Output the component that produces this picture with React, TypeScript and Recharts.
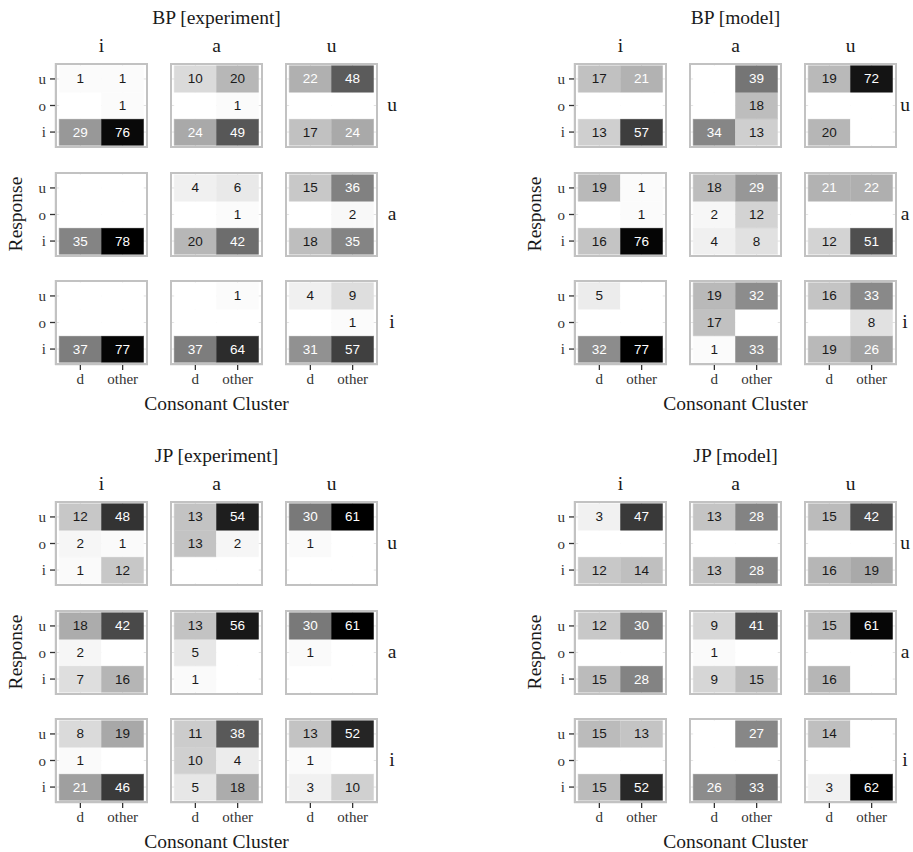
import React from 'react';
import { BarChart, Bar, XAxis, YAxis, CartesianGrid, Cell, LabelList } from 'recharts';

const clusters = ['d', 'other'];
const responses = ['u', 'o', 'i'];
const stimulusColumns = ['i', 'a', 'u'];
const stimulusRows = ['u', 'a', 'i'];

// counts[facet row][facet column][response u, o, i] = [d, other]
const bpExperiment = [
  [[[1, 1], [0, 1], [29, 76]], [[10, 20], [0, 1], [24, 49]], [[22, 48], [0, 0], [17, 24]]],
  [[[0, 0], [0, 0], [35, 78]], [[4, 6], [0, 1], [20, 42]], [[15, 36], [0, 2], [18, 35]]],
  [[[0, 0], [0, 0], [37, 77]], [[0, 1], [0, 0], [37, 64]], [[4, 9], [0, 1], [31, 57]]],
];
const bpModel = [
  [[[17, 21], [0, 0], [13, 57]], [[0, 39], [0, 18], [34, 13]], [[19, 72], [0, 0], [20, 0]]],
  [[[19, 1], [0, 1], [16, 76]], [[18, 29], [2, 12], [4, 8]], [[21, 22], [0, 0], [12, 51]]],
  [[[5, 0], [0, 0], [32, 77]], [[19, 32], [17, 0], [1, 33]], [[16, 33], [0, 8], [19, 26]]],
];
const jpExperiment = [
  [[[12, 48], [2, 1], [1, 12]], [[13, 54], [13, 2], [0, 0]], [[30, 61], [1, 0], [0, 0]]],
  [[[18, 42], [2, 0], [7, 16]], [[13, 56], [5, 0], [1, 0]], [[30, 61], [1, 0], [0, 0]]],
  [[[8, 19], [1, 0], [21, 46]], [[11, 38], [10, 4], [5, 18]], [[13, 52], [1, 0], [3, 10]]],
];
const jpModel = [
  [[[3, 47], [0, 0], [12, 14]], [[13, 28], [0, 0], [13, 28]], [[15, 42], [0, 0], [16, 19]]],
  [[[12, 30], [0, 0], [15, 28]], [[9, 41], [1, 0], [9, 15]], [[15, 61], [0, 0], [16, 0]]],
  [[[15, 13], [0, 0], [15, 52]], [[0, 27], [0, 0], [26, 33]], [[14, 0], [0, 0], [3, 62]]],
];

const titles = ['BP [experiment]', 'BP [model]', 'JP [experiment]', 'JP [model]'];
const datasets = [bpExperiment, bpModel, jpExperiment, jpModel];

// layout
const quadrantOffsets = [
  [0, 0],
  [519, 0],
  [0, 438],
  [519, 438],
];
const colLefts = [55, 170, 285];
const rowTops = [63, 172, 280];
const PW = 93;
const PH = 85;
const YW = 26;
const XH = 24;
const PADX = (PW * 0.1) / 2.2;
const PADY = (PH * 0.1) / 3.2;
const PAGE_W = 913;
const SERIF = "'Liberation Serif', 'Times New Roman', serif";
const SANS = "'Liberation Sans', Arial, sans-serif";
const INK = '#1a1a1a';

// white -> black, interpolated in Lab lightness like ggplot's gradient
function grayFor(n: number, max: number) {
  const L = 100 * (1 - n / max);
  const fy = (L + 16) / 116;
  const Y = L > 8 ? fy ** 3 : L / 903.3;
  const v = Y <= 0.0031308 ? 12.92 * Y : 1.055 * Y ** (1 / 2.4) - 0.055;
  const g = Math.round(Math.max(0, Math.min(1, v)) * 255);
  return `rgb(${g},${g},${g})`;
}

function TileLabel(props: any) {
  const { x, y, width, height, value } = props;
  if (!value) return null;
  return (
    <text
      x={Number(x) + Number(width) / 2}
      y={Number(y) + Number(height) / 2}
      textAnchor="middle"
      dominantBaseline="central"
      fontFamily={SANS}
      fontSize={13.5}
      fill={value > 20 ? '#ffffff' : INK}
    >
      {value}
    </text>
  );
}

function Facet({ counts, max, left, top, showY, showX }: any) {
  const rows = clusters.map((c, ci) => {
    const row: Record<string, any> = { cluster: c };
    responses.forEach((r, ri) => {
      row[r] = 1;
      row['n_' + r] = counts[ri][ci];
    });
    return row;
  });
  const w = PW + (showY ? YW : 0);
  const h = PH + (showX ? XH : 0);
  return (
    <div style={{ position: 'absolute', left: left - (showY ? YW : 0), top, width: w, height: h }}>
      <BarChart
        width={w}
        height={h}
        data={rows}
        margin={{ top: 0, right: 0, bottom: 0, left: 0 }}
        barCategoryGap={0}
        barGap={0}
      >
        <CartesianGrid stroke="#e2e2e2" strokeWidth={1} />
        <XAxis
          dataKey="cluster"
          padding={{ left: PADX, right: PADX }}
          hide={!showX}
          height={XH}
          interval={0}
          axisLine={false}
          tickLine={{ stroke: '#333', strokeWidth: 1.3 }}
          tickSize={5}
          tickMargin={3}
          tick={{ fill: '#333', fontSize: 15, fontFamily: SERIF }}
        />
        <YAxis
          type="number"
          domain={[0, 3]}
          ticks={[0.5, 1.5, 2.5]}
          tickFormatter={(v: number) => responses[2 - Math.floor(v)]}
          padding={{ top: PADY, bottom: PADY }}
          hide={!showY}
          width={YW}
          interval={0}
          axisLine={false}
          tickLine={{ stroke: '#333', strokeWidth: 1.3 }}
          tickSize={5}
          tickMargin={4}
          tick={{ fill: '#333', fontSize: 15, fontFamily: SERIF }}
        />
        {[...responses].reverse().map((r) => (
          <Bar key={r} dataKey={r} stackId="tile" isAnimationActive={false}>
            {rows.map((row, k) => {
              const fill = grayFor(row['n_' + r], max);
              return <Cell key={k} fill={fill} stroke={fill} strokeWidth={0.5} />;
            })}
            <LabelList dataKey={'n_' + r} content={TileLabel} />
          </Bar>
        ))}
      </BarChart>
      <div
        style={{
          position: 'absolute',
          left: showY ? YW : 0,
          top: 0,
          width: PW,
          height: PH,
          border: '2px solid #c2c2c2',
          boxSizing: 'border-box',
          pointerEvents: 'none',
        }}
      />
    </div>
  );
}

function Txt({ x, y, size, rotate, children }: any) {
  return (
    <div
      style={{
        position: 'absolute',
        left: x,
        top: y,
        transform: `translate(-50%, -50%)${rotate ? ' rotate(-90deg)' : ''}`,
        fontFamily: SERIF,
        fontSize: size,
        lineHeight: 1,
        color: INK,
        whiteSpace: 'nowrap',
      }}
    >
      {children}
    </div>
  );
}

function Quadrant({ title, counts, ox, oy }: any) {
  const max = Math.max(...counts.flat(3));
  const midX = ox + (colLefts[0] + colLefts[2] + PW) / 2;
  const stripX = Math.min(ox + 392, PAGE_W - 8);
  return (
    <>
      <Txt x={midX} y={oy + 18} size={19.5}>{title}</Txt>
      {stimulusColumns.map((s, ci) => (
        <Txt key={'c' + ci} x={ox + colLefts[ci] + PW / 2} y={oy + 46} size={19.5}>{s}</Txt>
      ))}
      {stimulusRows.map((s, ri) => (
        <Txt key={'r' + ri} x={stripX} y={oy + rowTops[ri] + PH / 2 - 1} size={19.5}>{s}</Txt>
      ))}
      {counts.map((rowFacets: any, ri: number) =>
        rowFacets.map((cell: any, ci: number) => (
          <Facet
            key={ri + '-' + ci}
            counts={cell}
            max={max}
            left={ox + colLefts[ci]}
            top={oy + rowTops[ri]}
            showY={ci === 0}
            showX={ri === 2}
          />
        ))
      )}
      <Txt x={midX} y={oy + 404} size={19.5}>Consonant Cluster</Txt>
      <Txt x={ox + 16} y={oy + (rowTops[0] + rowTops[2] + PH) / 2} size={19.5} rotate>Response</Txt>
    </>
  );
}

export default function App() {
  return (
    <div
      style={{
        position: 'absolute',
        left: 0,
        top: 0,
        width: PAGE_W,
        height: 852,
        overflow: 'hidden',
        background: '#ffffff',
      }}
    >
      {datasets.map((counts, q) => (
        <Quadrant
          key={q}
          title={titles[q]}
          counts={counts}
          ox={quadrantOffsets[q][0]}
          oy={quadrantOffsets[q][1]}
        />
      ))}
    </div>
  );
}
